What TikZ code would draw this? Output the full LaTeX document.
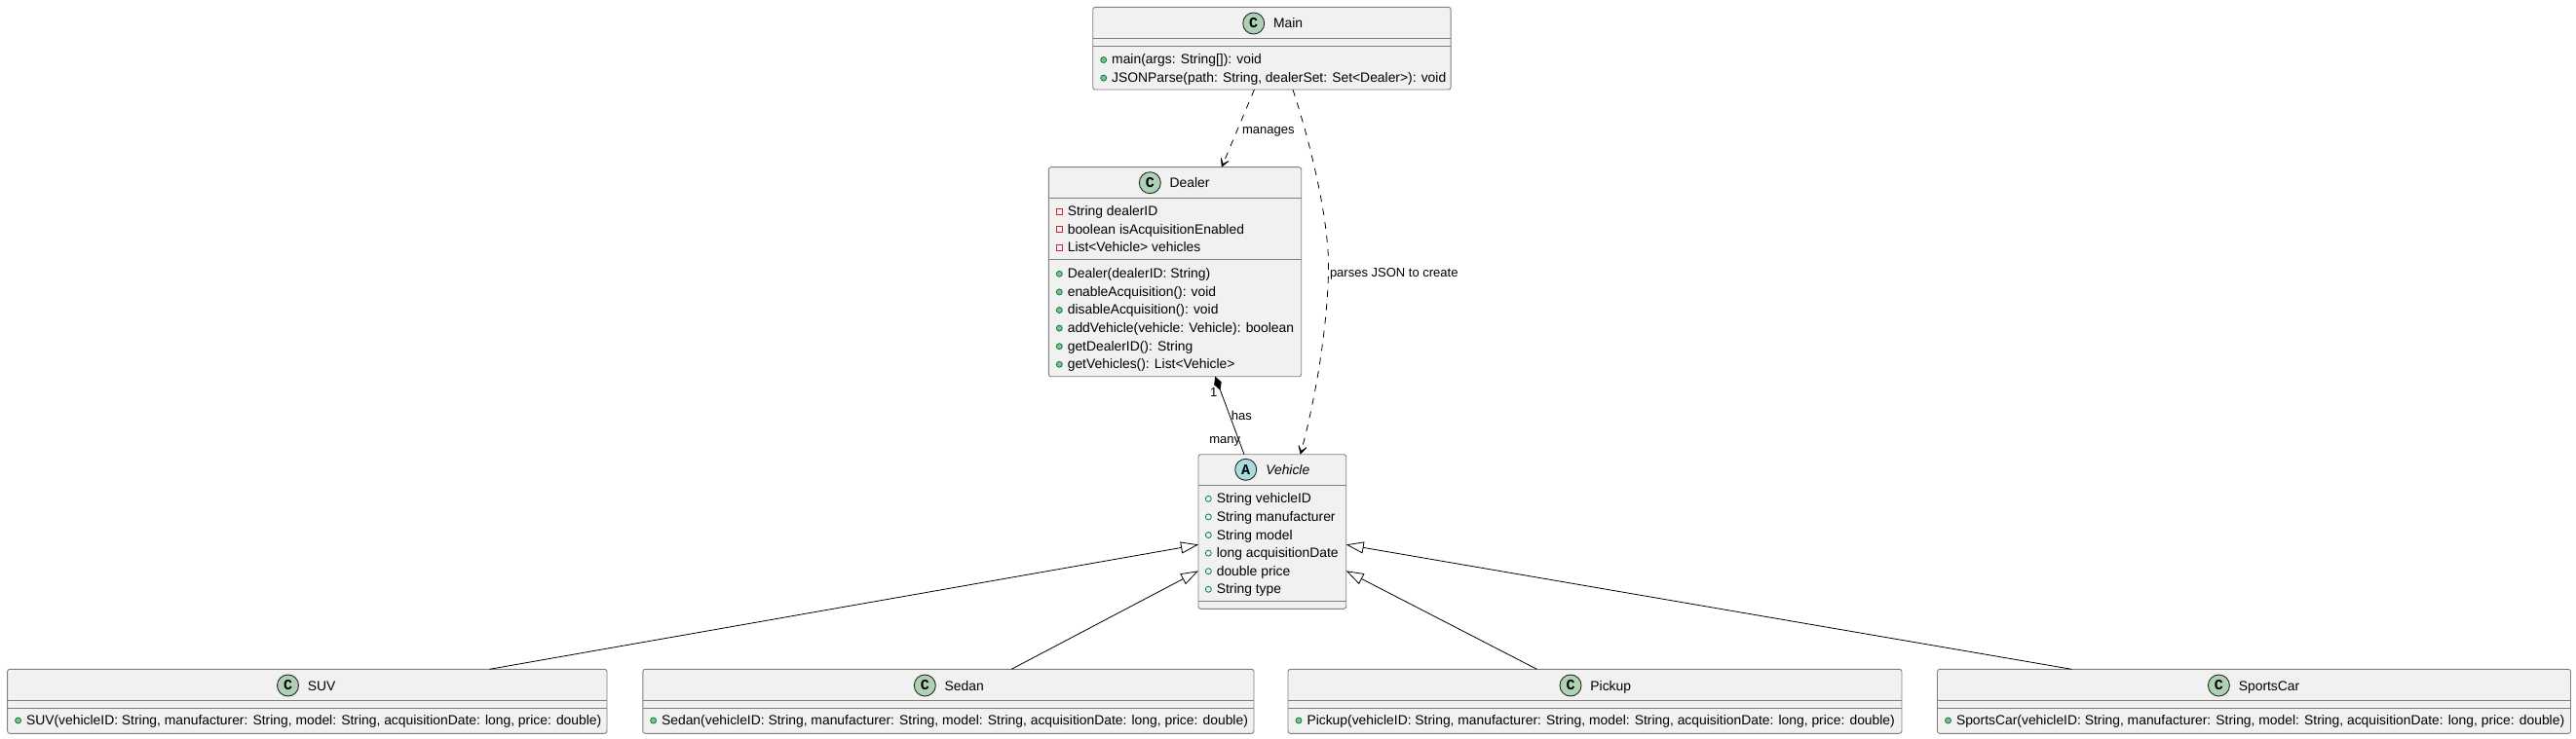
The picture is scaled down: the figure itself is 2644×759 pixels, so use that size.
\documentclass[tikz,border=0pt]{standalone}
\usepackage{fontspec}
\setmainfont{Liberation Sans}
\newfontfamily\badgefont{Liberation Mono}
\usetikzlibrary{arrows.meta,positioning}
\definecolor{boxline}{HTML}{7F7F7F}
\definecolor{boxfill}{HTML}{F1F1F1}
\definecolor{classbadge}{HTML}{ADD1B2}
\definecolor{abstractbadge}{HTML}{A9DCDF}
\definecolor{publine}{HTML}{038048}
\definecolor{pubfill}{HTML}{84BE84}
\definecolor{privline}{HTML}{C82930}

\begin{document}
\begin{tikzpicture}[x=1pt,y=-1pt,>={Stealth[length=12pt,width=13pt,inset=8pt,line width=.8pt]},
                    node distance=18.6pt,semithick]

  \tikzstyle{classbox}=[rectangle,draw=boxline,fill=boxfill,line width=.9pt,rounded corners=2.5pt,outer sep=0pt,inner sep=0pt]
  \tikzstyle{rule}=[draw=boxline,line width=.9pt]
  \tikzstyle{badge}=[circle,draw=black!85,line width=.9pt,fill=classbadge,minimum size=22pt,inner sep=0pt,outer sep=0pt,font=\badgefont\bfseries\fontsize{15}{15}\selectfont]
  \tikzstyle{title}=[inner sep=0pt,outer sep=0pt,text height=13pt,text depth=3pt,font=\fontsize{13.87}{14}\selectfont]
  \tikzstyle{member}=[inner sep=0pt,outer sep=0pt,text height=12pt,text depth=3pt,font=\fontsize{13.87}{14}\selectfont]
  \tikzstyle{pubdot}=[circle,draw=publine,fill=pubfill,line width=.8pt,minimum size=6pt,inner sep=0pt,outer sep=0pt]
  \tikzstyle{pubring}=[circle,draw=publine,fill=none,line width=.8pt,minimum size=6pt,inner sep=0pt,outer sep=0pt]
  \tikzstyle{privsq}=[rectangle,draw=privline,fill=none,line width=.8pt,minimum size=6pt,inner sep=0pt,outer sep=0pt]
  \tikzstyle{edgelabel}=[inner sep=0pt,outer sep=0pt,text height=13pt,text depth=3pt,font=\fontsize{13}{13}\selectfont]
  \tikzstyle{dep}=[->,black,line width=.8pt,dash pattern=on 7pt off 7pt]
  \tikzstyle{owns}=[{Diamond[length=15pt,width=8pt]}-,black,line width=.8pt]
  \tikzstyle{extends}=[-{Triangle[open,length=18pt,width=12pt,line width=.8pt]},black,line width=.8pt]

  \useasboundingbox (0,0) rectangle (2644,759);

  \node[classbox,minimum width=367.4pt,minimum height=84.7pt] (Main) at (1305.4,49.7) {};
  \node[classbox,minimum width=259.4pt,minimum height=215pt] (Dealer) at (1206,279.2) {};
  \node[classbox,minimum width=151.7pt,minimum height=158.6pt] (Vehicle) at (1305.85,546) {};
  \node[classbox,minimum width=615.4pt,minimum height=66pt] (SUV) at (315.3,720.3) {};
  \node[classbox,minimum width=627.2pt,minimum height=66pt] (Sedan) at (973.4,720.3) {};
  \node[classbox,minimum width=630pt,minimum height=66pt] (Pickup) at (1637,720.3) {};
  \node[classbox,minimum width=650pt,minimum height=66pt] (SportsCar) at (2313.5,720.3) {};

  \draw[rule] (Main.west |- 0,39.5) -- (Main.east |- 0,39.5);
  \draw[rule] (Main.west |- 0,47.3) -- (Main.east |- 0,47.3);
  \draw[rule] (Dealer.west |- 0,203.3) -- (Dealer.east |- 0,203.3);
  \draw[rule] (Dealer.west |- 0,266.7) -- (Dealer.east |- 0,266.7);
  \draw[rule] (Vehicle.west |- 0,498.3) -- (Vehicle.east |- 0,498.3);
  \draw[rule] (Vehicle.west |- 0,617.3) -- (Vehicle.east |- 0,617.3);
  \draw[rule] (SUV.west |- 0,719.7) -- (SUV.east |- 0,719.7);
  \draw[rule] (SUV.west |- 0,727.7) -- (SUV.east |- 0,727.7);
  \draw[rule] (Sedan.west |- 0,719.7) -- (Sedan.east |- 0,719.7);
  \draw[rule] (Sedan.west |- 0,727.7) -- (Sedan.east |- 0,727.7);
  \draw[rule] (Pickup.west |- 0,719.7) -- (Pickup.east |- 0,719.7);
  \draw[rule] (Pickup.west |- 0,727.7) -- (Pickup.east |- 0,727.7);
  \draw[rule] (SportsCar.west |- 0,719.7) -- (SportsCar.east |- 0,719.7);
  \draw[rule] (SportsCar.west |- 0,727.7) -- (SportsCar.east |- 0,727.7);

  \node[badge] (MainBadge) at (1286.7,24) {C};
  \node[title,right=9.4pt of MainBadge] (MainTitle) {Main};
  \node[badge] (DealerBadge) at (1180.3,187.7) {C};
  \node[title,right=9.4pt of DealerBadge] (DealerTitle) {Dealer};
  \node[badge,fill=abstractbadge] (VehicleBadge) at (1278.7,482.3) {A};
  \node[title,right=9.6pt of VehicleBadge] (VehicleTitle) {\itshape Vehicle};
  \node[badge] (SUVBadge) at (295.5,704) {C};
  \node[title,right=9.4pt of SUVBadge] (SUVTitle) {SUV};
  \node[badge] (SedanBadge) at (949.3,704) {C};
  \node[title,right=9.4pt of SedanBadge] (SedanTitle) {Sedan};
  \node[badge] (PickupBadge) at (1612,704) {C};
  \node[title,right=9.4pt of PickupBadge] (PickupTitle) {Pickup};
  \node[badge] (SportsCarBadge) at (2277.4,704) {C};
  \node[title,right=9.4pt of SportsCarBadge] (SportsCarTitle) {SportsCar};

  \node[pubdot] (MainDot1) at (1132.7,61.5) {};
  \node[member,right=5.5pt of MainDot1] (MainRow1) {main(args: String[]): void};
  \node[pubdot] (MainDot2) [below of=MainDot1] {};
  \node[member,right=5.5pt of MainDot2] (MainRow2) {JSONParse(path: String, dealerSet: Set<Dealer>): void};

  \node[privsq] (DealerDot1) at (1087.3,217.3) {};
  \node[member,right=5.5pt of DealerDot1] (DealerRow1) {String dealerID};
  \node[privsq] (DealerDot2) [below of=DealerDot1] {};
  \node[member,right=5.5pt of DealerDot2] (DealerRow2) {boolean isAcquisitionEnabled};
  \node[privsq] (DealerDot3) [below of=DealerDot2] {};
  \node[member,right=5.5pt of DealerDot3] (DealerRow3) {List<Vehicle> vehicles};
  \node[pubdot] (DealerDot4) at (1087.3,281.3) {};
  \node[member,right=5.5pt of DealerDot4] (DealerRow4) {Dealer(dealerID: String)};
  \node[pubdot] (DealerDot5) [below of=DealerDot4] {};
  \node[member,right=5.5pt of DealerDot5] (DealerRow5) {enableAcquisition(): void};
  \node[pubdot] (DealerDot6) [below of=DealerDot5] {};
  \node[member,right=5.5pt of DealerDot6] (DealerRow6) {disableAcquisition(): void};
  \node[pubdot] (DealerDot7) [below of=DealerDot6] {};
  \node[member,right=5.5pt of DealerDot7] (DealerRow7) {addVehicle(vehicle: Vehicle): boolean};
  \node[pubdot] (DealerDot8) [below of=DealerDot7] {};
  \node[member,right=5.5pt of DealerDot8] (DealerRow8) {getDealerID(): String};
  \node[pubdot] (DealerDot9) [below of=DealerDot8] {};
  \node[member,right=5.5pt of DealerDot9] (DealerRow9) {getVehicles(): List<Vehicle>};

  \node[pubring] (VehicleDot1) at (1240.3,512.3) {};
  \node[member,right=5.5pt of VehicleDot1] (VehicleRow1) {String vehicleID};
  \node[pubring] (VehicleDot2) [below of=VehicleDot1] {};
  \node[member,right=5.5pt of VehicleDot2] (VehicleRow2) {String manufacturer};
  \node[pubring] (VehicleDot3) [below of=VehicleDot2] {};
  \node[member,right=5.5pt of VehicleDot3] (VehicleRow3) {String model};
  \node[pubring] (VehicleDot4) [below of=VehicleDot3] {};
  \node[member,right=5.5pt of VehicleDot4] (VehicleRow4) {long acquisitionDate};
  \node[pubring] (VehicleDot5) [below of=VehicleDot4] {};
  \node[member,right=5.5pt of VehicleDot5] (VehicleRow5) {double price};
  \node[pubring] (VehicleDot6) [below of=VehicleDot5] {};
  \node[member,right=5.5pt of VehicleDot6] (VehicleRow6) {String type};

  \node[pubdot] (SUVDot) at (18.6,740) {};
  \node[member,right=5.5pt of SUVDot] (SUVRow) {SUV(vehicleID: String, manufacturer: String, model: String, acquisitionDate: long, price: double)};
  \node[pubdot] (SedanDot) at (670.6,740) {};
  \node[member,right=5.5pt of SedanDot] (SedanRow) {Sedan(vehicleID: String, manufacturer: String, model: String, acquisitionDate: long, price: double)};
  \node[pubdot] (PickupDot) at (1333,740) {};
  \node[member,right=5.5pt of PickupDot] (PickupRow) {Pickup(vehicleID: String, manufacturer: String, model: String, acquisitionDate: long, price: double)};
  \node[pubdot] (SportsCarDot) at (1999.5,740) {};
  \node[member,right=5.5pt of SportsCarDot] (SportsCarRow) {SportsCar(vehicleID: String, manufacturer: String, model: String, acquisitionDate: long, price: double)};

  \draw[dep] (Main.-113) -- node[edgelabel,right=4.5pt,yshift=-.8pt] (ManagesLabel) {manages} (Dealer.66.7);
  \draw[dep] (Main.-63.3) .. controls (1346,150) and (1365,230) .. (1363.5,280)
    node[edgelabel,right=1.5pt] (ParsesLabel) {parses JSON to create}
    .. controls (1362,340) and (1350,410) .. (Vehicle.70.9);
  \draw[owns] (Dealer.-69.7) -- node[edgelabel,right=1.7pt] (HasLabel) {has}
    node[edgelabel,pos=.2,left=3.8pt] (OneLabel) {1}
    node[edgelabel,pos=.8,left=-2pt] (ManyLabel) {many} (Vehicle.110.6);

  \draw[extends] (SUV.10.04) -- (Vehicle.190.5);
  \draw[extends] (Sedan.27.6) -- (Vehicle.208.2);
  \draw[extends] (Pickup.151.8) -- (Vehicle.-28.2);
  \draw[extends] (SportsCar.170.12) -- (Vehicle.-10.46);
\end{tikzpicture}
\end{document}
